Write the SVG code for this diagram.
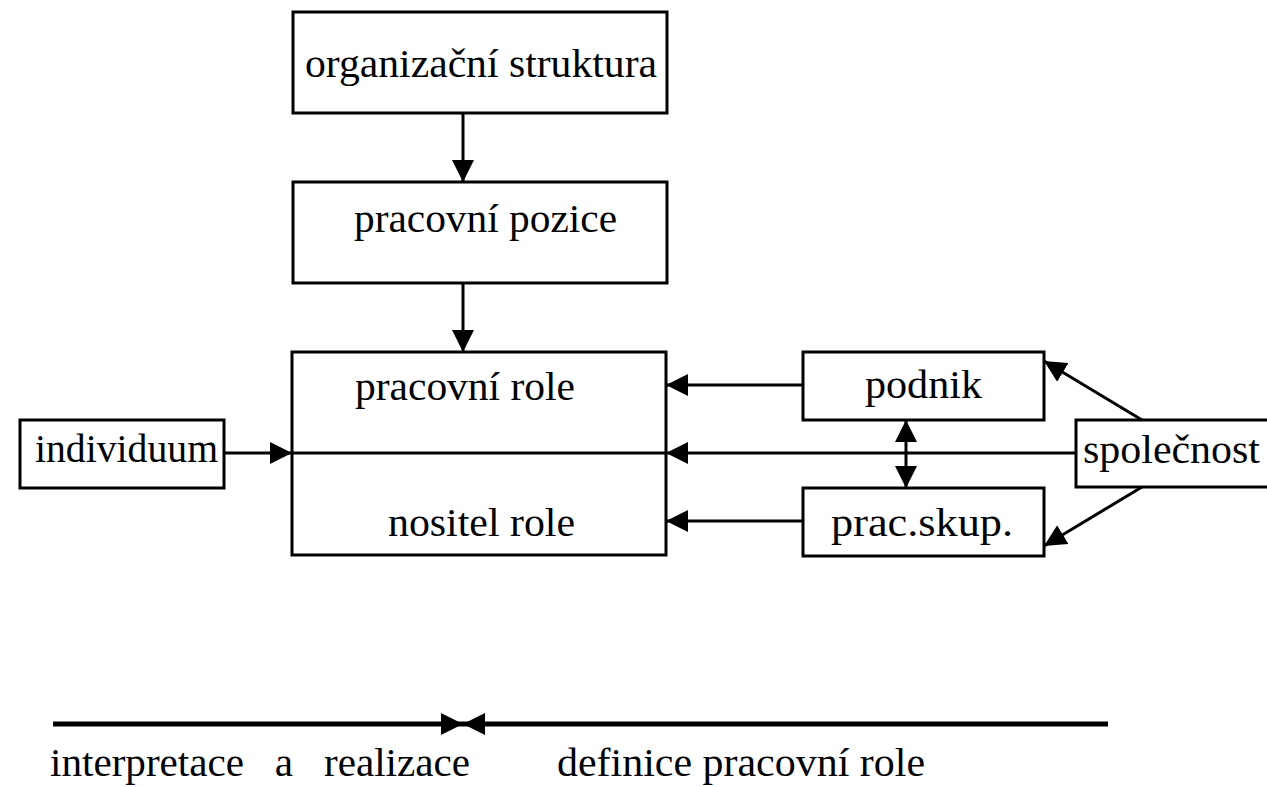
<svg xmlns="http://www.w3.org/2000/svg" width="1267" height="787" viewBox="0 0 1267 787">
<style>
.box{fill:#fff;stroke:#000;stroke-width:3}
.t{font-family:'Times New Roman',Times,'Liberation Serif','DejaVu Serif',serif;font-size:40px;fill:#000}
.c{stroke:#000;stroke-width:3;fill:none}
.thick{stroke:#000;stroke-width:5;fill:none}
</style>
<defs>
<marker id="ah" markerUnits="userSpaceOnUse" markerWidth="24" markerHeight="22" refX="22" refY="11" orient="auto-start-reverse" viewBox="0 0 24 22">
<path d="M0,0 L22,11 L0,22 Z" fill="#000"/>
</marker>
</defs>
<rect width="1267" height="787" fill="#fff"/>
<g id="connectors">
<line class="c" x1="463" y1="113" x2="463" y2="182" marker-end="url(#ah)"/>
<line class="c" x1="463" y1="283" x2="463" y2="352" marker-end="url(#ah)"/>
<line class="c" x1="224" y1="453" x2="292" y2="453" marker-end="url(#ah)"/>
<line class="c" x1="292" y1="453" x2="666" y2="453"/>
<line class="c" x1="1076" y1="453" x2="666" y2="453" marker-end="url(#ah)"/>
<line class="c" x1="803" y1="385" x2="666" y2="385" marker-end="url(#ah)"/>
<line class="c" x1="803" y1="521" x2="666" y2="521" marker-end="url(#ah)"/>
<line class="c" x1="906" y1="420" x2="906" y2="488" marker-start="url(#ah)" marker-end="url(#ah)"/>
<line class="c" x1="1142" y1="420" x2="1044" y2="361" marker-end="url(#ah)"/>
<line class="c" x1="1142" y1="487" x2="1044" y2="546" marker-end="url(#ah)"/>
<line class="thick" x1="53" y1="724" x2="463" y2="724" marker-end="url(#ah)"/>
<line class="thick" x1="1108" y1="724" x2="463" y2="724" marker-end="url(#ah)"/>
</g>
<g id="org">
<rect class="box" x="293" y="12" width="374" height="101"/>
<text class="t" x="305" y="77" textLength="352" lengthAdjust="spacingAndGlyphs">organizační struktura</text>
</g>
<g id="pozice">
<rect class="box" x="293" y="182" width="374" height="101"/>
<text class="t" x="354" y="232" textLength="263" lengthAdjust="spacingAndGlyphs">pracovní pozice</text>
</g>
<g id="role">
<rect class="box" x="292" y="352" width="374" height="203" style="fill:none"/>
<text class="t" x="355" y="400" textLength="220" lengthAdjust="spacingAndGlyphs">pracovní role</text>
<text class="t" x="388" y="536" textLength="187" lengthAdjust="spacingAndGlyphs">nositel role</text>
</g>
<g id="individuum">
<rect class="box" x="20" y="420" width="204" height="68"/>
<text class="t" x="35" y="462" textLength="183" lengthAdjust="spacingAndGlyphs">individuum</text>
</g>
<g id="podnik">
<rect class="box" x="803" y="352" width="241" height="68"/>
<text class="t" x="865" y="398" textLength="117" lengthAdjust="spacingAndGlyphs">podnik</text>
</g>
<g id="pracskup">
<rect class="box" x="803" y="488" width="241" height="68"/>
<text class="t" x="831" y="536" textLength="182" lengthAdjust="spacingAndGlyphs">prac.skup.</text>
</g>
<g id="spolecnost">
<rect class="box" x="1076" y="420" width="200" height="67"/>
<text class="t" x="1083" y="463" textLength="177" lengthAdjust="spacingAndGlyphs">společnost</text>
</g>
<g id="legend">
<text class="t" x="50" y="776" textLength="420" lengthAdjust="spacingAndGlyphs" xml:space="preserve">interpretace   a   realizace</text>
<text class="t" x="557" y="776" textLength="368" lengthAdjust="spacingAndGlyphs">definice pracovní role</text>
</g>
</svg>
